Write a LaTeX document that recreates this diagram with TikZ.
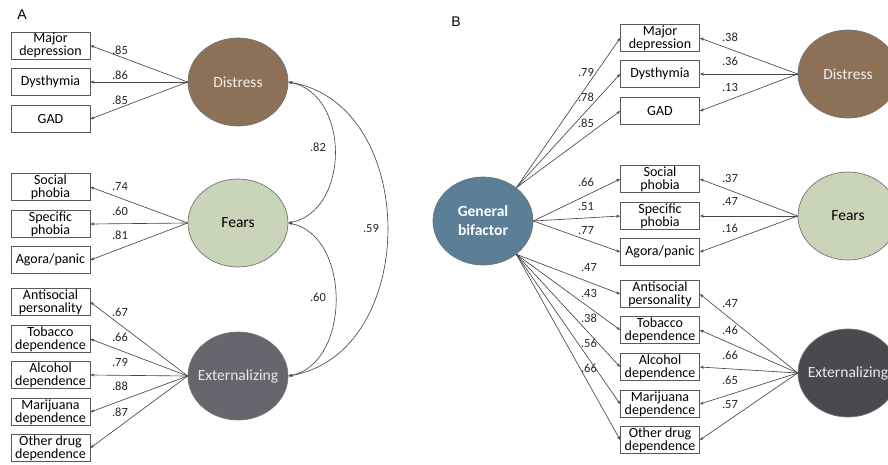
\documentclass[tikz,border=0pt]{standalone}
\usepackage{fontspec}
\setmainfont{Carlito}
\newfontfamily\panelfont{Liberation Sans}
\usetikzlibrary{arrows.meta, shapes.geometric}

\definecolor{distressbrown}{HTML}{8C7156}
\definecolor{fearsgreen}{HTML}{C9D5B8}
\definecolor{extgrayA}{HTML}{66666E}
\definecolor{extgrayB}{HTML}{4A4A4E}
\definecolor{bifactorblue}{HTML}{5A7F97}

\tikzset{
  indicator/.style={draw=black!65, fill=white, line width=0.7pt, minimum width=79pt,
    minimum height=27pt, inner sep=0.5pt, align=center,
    font=\fontsize{14}{12.8}\selectfont},
  factor/.style={ellipse, draw=black!55, line width=0.7pt, minimum width=100pt,
    minimum height=88pt, inner xsep=-8pt, inner ysep=0pt,
    font=\fontsize{15.5}{19}\selectfont},
  loading/.style={font=\fontsize{12.5}{12.5}\selectfont, text=black!85, inner sep=0pt},
  ld/.style={->, draw=black!72, line width=0.65pt},
  corr/.style={<->, draw=black!72, line width=0.65pt}
}

\begin{document}
\begin{tikzpicture}[x=1pt, y=-1pt, >={Stealth[length=4pt,width=3pt]}]
\useasboundingbox (0,0) rectangle (888,464);
\clip (0,0) rectangle (888,464);

% Panel letters
\node[font=\panelfont\fontsize{14}{14}\selectfont] (panelA) at (22,15) {A};
\node[font=\panelfont\fontsize{14}{14}\selectfont] (panelB) at (456,22) {B};

%%% Panel A: correlated factors
\node[factor, fill=distressbrown, text=white!90!distressbrown] (disA) at (238,82) {Distress};
\node[factor, fill=fearsgreen] (feaA) at (238,223) {Fears};
\node[factor, fill=extgrayA, text=white!92!black] (extA) at (238,376) {Externalizing};

\foreach \n/\y/\txt in {majA/45.5/{Major\\depression}, dysA/82/{Dysthymia}, gadA/119/{GAD},
    socA/187/{Social\\phobia}, speA/224/{Specific\\phobia}, agoA/260/{Agora/panic},
    antA/302/{Antisocial\\personality}, tobA/339/{Tobacco\\dependence},
    alcA/375/{Alcohol\\dependence}, marA/412/{Marijuana\\dependence},
    othA/448/{Other drug\\dependence}}
  \node[indicator] (\n) at (50.5,\y) {\txt};

% loadings
\foreach \b in {majA, dysA, gadA} \draw[ld] (disA.west) -- (\b.east);
\foreach \b in {socA, speA, agoA} \draw[ld] (feaA.west) -- (\b.east);
\foreach \b in {antA, tobA, alcA, marA, othA} \draw[ld] (extA.west) -- (\b.east);

\foreach \v/\y [count=\i] in {.85/50, .86/75, .85/100, .74/187, .60/211, .81/235,
    .67/312, .66/337, .79/362, .88/386, .87/412}
  \node[loading] (ldA\i) at (120,\y) {\v};

% factor correlations
\draw[corr] (disA.east) .. controls +(62,12) and +(62,-12) .. (feaA.east);
\draw[corr] (feaA.east) .. controls +(63,12) and +(63,-12) .. (extA.east);
\draw[corr] (disA.east) .. controls +(132,22) and +(132,-22) .. (extA.east);
\node[loading] (corrDF) at (318,147) {.82};
\node[loading] (corrFE) at (318,297) {.60};
\node[loading] (corrDE) at (371,228) {.59};

%%% Panel B: bifactor
\node[factor, fill=bifactorblue, text=white, align=center,
  font=\fontsize{15.5}{19}\selectfont\bfseries] (gen) at (483,221) {General\\bifactor};
\node[factor, fill=distressbrown, text=white!90!distressbrown] (disB) at (848,74) {Distress};
\node[factor, fill=fearsgreen] (feaB) at (848,216) {Fears};
\node[factor, fill=extgrayB, text=white!92!black] (extB) at (848,373) {Externalizing};

\foreach \n/\y/\txt in {majB/38/{Major\\depression}, dysB/74/{Dysthymia}, gadB/111/{GAD},
    socB/179/{Social\\phobia}, speB/216/{Specific\\phobia}, agoB/252/{Agora/panic},
    antB/294/{Antisocial\\personality}, tobB/330/{Tobacco\\dependence},
    alcB/367/{Alcohol\\dependence}, marB/404/{Marijuana\\dependence},
    othB/440/{Other drug\\dependence}}
  \node[indicator] (\n) at (660,\y) {\txt};

% general factor loadings
\foreach \b in {majB, dysB, gadB} \draw[ld] (gen.45) -- (\b.west);
\foreach \b in {socB, speB, agoB} \draw[ld] (gen.east) -- (\b.west);
\foreach \b in {antB, tobB, alcB, marB, othB} \draw[ld] (gen.-45) -- (\b.west);

\foreach \v/\x/\y [count=\i] in {.79/586/72, .78/586/97, .85/586/123, .66/586/182,
    .51/586/207, .77/586/231, .47/589/268, .43/589/293, .38/589/318, .56/589/343, .66/589/368}
  \node[loading] (ldG\i) at (\x,\y) {\v};

% specific factor loadings
\foreach \b in {majB, dysB, gadB} \draw[ld] (disB.west) -- (\b.east);
\foreach \b in {socB, speB, agoB} \draw[ld] (feaB.west) -- (\b.east);
\foreach \b in {antB, tobB, alcB, marB, othB} \draw[ld] (extB.west) -- (\b.east);

\foreach \v/\y [count=\i] in {.38/37, .36/61, .13/87, .37/178, .47/202, .16/228,
    .47/304, .46/330, .66/355, .65/380, .57/405}
  \node[loading] (ldS\i) at (730,\y) {\v};

\end{tikzpicture}
\end{document}
